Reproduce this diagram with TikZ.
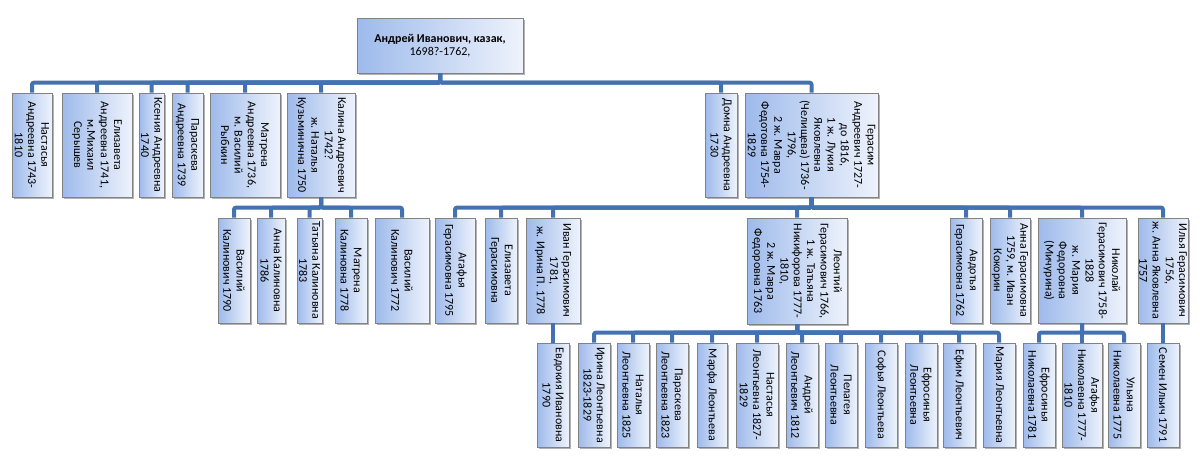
\documentclass[tikz,border=0pt]{standalone}
\usepackage{fontspec}
\setmainfont{Carlito}
\usetikzlibrary{fit,shadows}
\definecolor{linec}{RGB}{68,114,176}
\definecolor{boxl}{RGB}{158,186,235}
\definecolor{boxr}{RGB}{238,243,252}
\definecolor{boxd}{RGB}{130,130,130}
\tikzset{
  pbox/.style={draw=boxd, line width=0.4pt, inner sep=0pt, left color=boxl, right color=boxr,
    drop shadow={shadow xshift=0.8pt, shadow yshift=-0.8pt, fill=black!30, opacity=1}},
  ptext/.style={rotate=-90, align=center, inner sep=0pt, text=black,
    font=\fontsize{6}{6.65}\selectfont},
  conn/.style={draw=linec, line width=2pt, rounded corners=1pt},
}
\newcommand{\pers}[6]{%
  \node[pbox, fit={(#2,#3) (#4,#5)}] (#1) {};
  \node[ptext] at (#1.center) {#6};
}
\newcommand{\kids}[2]{%
  \foreach \c in {#2} {\draw[conn] (#1.south) |- ([yshift=5pt]\c.north) -- (\c.north);}
}
\begin{document}
\begin{tikzpicture}[x=0.5pt, y=-0.5pt]
\useasboundingbox (0,0) rectangle (1200,468);
% root
\node[pbox, fit={(357,18) (523,73)}] (root) {};
\node[align=center, inner sep=0pt, text=black, font=\fontsize{6}{6.65}\selectfont] at (root.center)
  {\textbf{Андрей Иванович, казак,}\\1698?-1762,};
% row 1
\pers{a1}{12}{93}{52}{197}{Настасья\\Андреевна 1743-\\1810}
\pers{a2}{62}{93}{132}{197}{Елизавета\\Андреевна 1741,\\м.Михаил\\Серышев}
\pers{a3}{139}{93}{164}{197}{Ксения Андреевна\\1740}
\pers{a4}{172}{93}{203}{197}{Параскева\\Андреевна 1739}
\pers{a5}{210}{93}{280}{197}{Матрена\\Андреевна 1736,\\м. Василий\\Рыбкин}
\pers{a6}{287}{93}{355}{197}{Калина Андреевич\\1742?\\ж. Наталья\\Кузьминична 1750}
\pers{a7}{705}{93}{737}{197}{Домна Андреевна\\1730}
\pers{a8}{745}{93}{878}{197}{Герасим\\Андреевич 1727-\\до 1816,\\1 ж. Лукия\\Яковлевна\\(Челищева) 1736-\\1796,\\2 ж. Мавра\\Федотовна 1754-\\1829}
% row 2 (Kalina)
\pers{b1}{218}{218}{250}{323}{Василий\\Калинович 1790}
\pers{b2}{257}{218}{285}{323}{Анна Калиновна\\1786}
\pers{b3}{297}{218}{322}{323}{Татьяна Калиновна\\1783}
\pers{b4}{335}{218}{367}{323}{Матрена\\Калиновна 1778}
\pers{b5}{375}{218}{429}{323}{Василий\\Калинович 1772}
% row 2 (Gerasim)
\pers{c1}{435}{218}{475}{323}{Агафья\\Герасимовна 1795}
\pers{c2}{485}{218}{517}{323}{Елизавета\\Герасимовна}
\pers{c3}{526}{218}{580}{323}{Иван Герасимович\\1781,\\ж. Ирина П. 1778}
\pers{c4}{747}{218}{847}{324}{Леонтий\\Герасимович 1766,\\1 ж. Татьяна\\Никифорова 1777-\\1810,\\2 ж. Мавра\\Федоровна 1763}
\pers{c5}{950}{218}{982}{323}{Авдотья\\Герасимовна 1762}
\pers{c6}{990}{218}{1030}{323}{Анна Герасимовна\\1759, м. Иван\\Кокорин}
\pers{c7}{1038}{218}{1126}{323}{Николай\\Герасимович 1758-\\1828\\ж. Мария\\Федоровна\\(Мичурина)}
\pers{c8}{1138}{218}{1188}{323}{Илья Герасимович\\1756,\\ж. Анна Яковлевна\\1757}
% row 3
\pers{d1}{537}{343}{569}{447}{Евдокия Ивановна\\1790}
\pers{e1}{578}{343}{610}{447}{Ирина Леонтьевна\\1823-1829}
\pers{e2}{617}{343}{649}{447}{Наталья\\Леонтьевна 1825}
\pers{e3}{656}{343}{688}{447}{Параскева\\Леонтьевна 1823}
\pers{e4}{697}{343}{727}{447}{Марфа Леонтьева}
\pers{e5}{736}{343}{778}{447}{Настасья\\Леонтьевна 1827-\\1829}
\pers{e6}{786}{343}{818}{447}{Андрей\\Леонтьевич 1812}
\pers{e7}{825}{343}{857}{447}{Пелагея\\Леонтьевна}
\pers{e8}{865}{343}{897}{447}{Софья Леонтьева}
\pers{e9}{905}{343}{937}{447}{Ефросинья\\Леонтьевна}
\pers{e10}{943}{343}{975}{447}{Ефим Леонтьевич}
\pers{e11}{983}{343}{1015}{447}{Мария Леонтьевна}
\pers{f1}{1023}{343}{1055}{447}{Ефросинья\\Николаевна 1781}
\pers{f2}{1062}{343}{1102}{447}{Агафья\\Николаевна 1777-\\1810}
\pers{f3}{1108}{343}{1140}{447}{Ульяна\\Николаевна 1775}
\pers{g1}{1147}{343}{1179}{447}{Семен Ильич 1791}
% connectors
\kids{root}{a1,a2,a3,a4,a5,a6,a7,a8}
\kids{a6}{b1,b2,b3,b4,b5}
\kids{a8}{c1,c2,c3,c4,c5,c6,c7,c8}
\draw[conn] (c3.south) -- (d1.north);
\kids{c4}{e1,e2,e3,e4,e5,e6,e7,e8,e9,e10,e11}
\kids{c7}{f1,f2,f3}
\draw[conn] (c8.south) -- (g1.north);
\end{tikzpicture}
\end{document}
